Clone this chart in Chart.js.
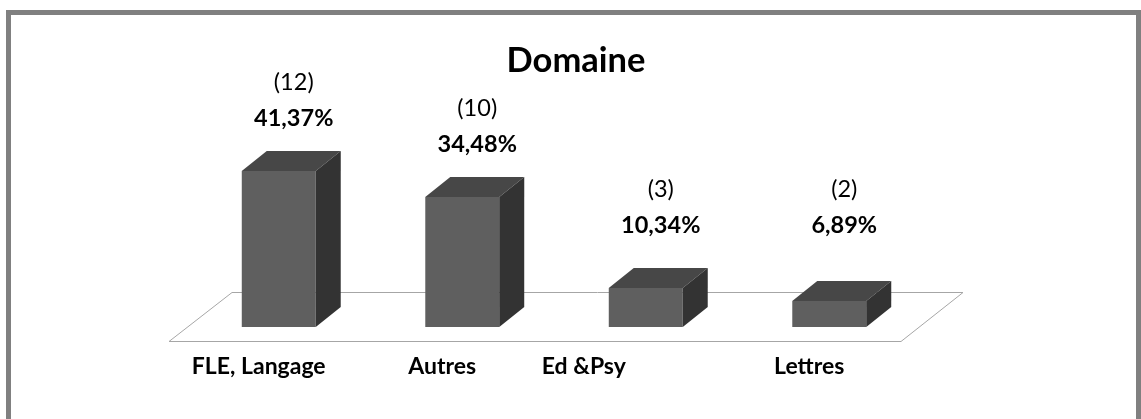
<!DOCTYPE html>
<html><head><meta charset="utf-8">
<script src="https://cdn.jsdelivr.net/npm/chart.js@4.4.1/dist/chart.umd.min.js"></script>
<style>
html,body{margin:0;padding:0;background:#fff;overflow:hidden;width:1141px;height:419px;}
#wrap{position:relative;width:1141px;height:419px;}
#frame{position:absolute;left:6px;top:10px;width:1125px;height:480px;border:5px solid #808080;pointer-events:none;}
canvas{position:absolute;left:0;top:0;}
</style></head><body>
<div id="wrap"><canvas id="c" width="1141" height="419"></canvas><div id="frame"></div></div>
<script>
const categories = ["FLE, Langage", "Autres", "Ed &Psy               ", "Lettres"];
const percentages = [41.37, 34.48, 10.34, 6.89];
const counts = [12, 10, 3, 2];
const titleText = "Domaine";

const DX = 25, DY = -20;
const fmtPct = v => v.toFixed(2).replace('.', ',') + '%';

const box3d = {
  id: 'box3d',
  beforeDatasetsDraw(chart) {
    const {ctx, chartArea: a, scales: {y}} = chart;
    const z = y.getPixelForValue(0);
    ctx.save();
    ctx.beginPath();
    ctx.moveTo(a.left - 18, z + 14.5);
    ctx.lineTo(a.left + 45, z - 34.5);
    ctx.lineTo(a.right + 42, z - 34.5);
    ctx.lineTo(a.right - 20, z + 14.5);
    ctx.closePath();
    ctx.fillStyle = '#ffffff';
    ctx.fill();
    ctx.strokeStyle = '#a6a6a6';
    ctx.lineWidth = 1;
    ctx.stroke();
    ctx.restore();
  },
  afterDatasetsDraw(chart) {
    const {ctx} = chart;
    const y = chart.scales.y;
    const meta = chart.getDatasetMeta(0);
    ctx.save();
    meta.data.forEach((bar, i) => {
      const p = bar.getProps(['x', 'y', 'base', 'width'], true);
      const l = p.x - p.width / 2, r = p.x + p.width / 2, t = p.y, b = p.base;
      ctx.fillStyle = '#474747';
      ctx.beginPath();
      ctx.moveTo(l, t); ctx.lineTo(l + DX, t + DY); ctx.lineTo(r + DX, t + DY); ctx.lineTo(r, t);
      ctx.closePath(); ctx.fill();
      ctx.fillStyle = '#333333';
      ctx.beginPath();
      ctx.moveTo(r, t); ctx.lineTo(r + DX, t + DY); ctx.lineTo(r + DX, b + DY); ctx.lineTo(r, b);
      ctx.closePath(); ctx.fill();

      const cx = p.x + 15;
      const pctBase = Math.min(t + DY - 25, y.getPixelForValue(25));
      ctx.fillStyle = '#000000';
      ctx.textAlign = 'center';
      ctx.textBaseline = 'alphabetic';
      ctx.font = 'bold 23.5px Lato';
      ctx.fillText(fmtPct(percentages[i]), cx, pctBase);
      ctx.font = '23.5px Lato';
      ctx.fillText('(' + counts[i] + ')', cx, pctBase - 36);
    });
    ctx.restore();
  }
};

new Chart(document.getElementById('c'), {
  type: 'bar',
  data: {
    labels: categories,
    datasets: [{
      data: percentages,
      backgroundColor: '#5f5f5f',
      borderWidth: 0,
      barPercentage: 0.403,
      categoryPercentage: 1
    }]
  },
  options: {
    responsive: false,
    animation: false,
    devicePixelRatio: 1,
    layout: {padding: {left: 187, right: 176, top: 0, bottom: 0}},
    plugins: {
      legend: {display: false},
      tooltip: {enabled: false},
      title: {
        display: true,
        text: titleText,
        color: '#000000',
        font: {family: 'Lato', size: 34.5, weight: 'bold', lineHeight: 1.2},
        padding: {top: 40, bottom: 57.1}
      }
    },
    scales: {
      x: {
        grid: {display: false, drawTicks: false},
        border: {display: false},
        ticks: {
          color: '#000000',
          font: {family: 'Lato', size: 23, weight: 'bold'},
          padding: 26,
          labelOffset: -20,
          maxRotation: 0,
          autoSkip: false
        },
        afterFit(s) { s.height = 92; }
      },
      y: {
        position: 'right',
        min: 0,
        max: 50,
        grid: {display: false, drawTicks: false},
        border: {display: false},
        ticks: {display: false},
        afterFit(s) { s.width = 44; }
      }
    }
  },
  plugins: [box3d]
});
</script>
</body></html>
